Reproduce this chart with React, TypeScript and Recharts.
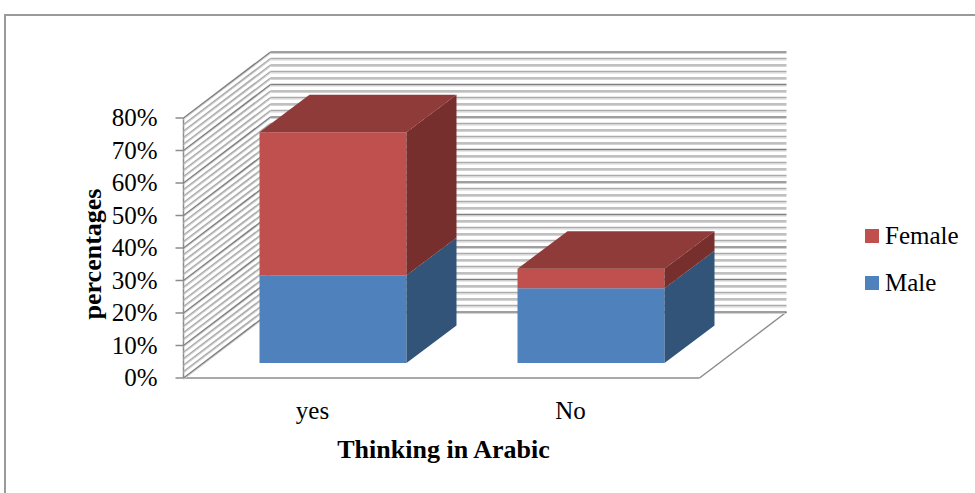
import React from 'react';
import { BarChart, Bar, XAxis, YAxis, Legend, ReferenceArea, ReferenceLine } from 'recharts';

// values (percent)
const categories = ['yes', 'No'];
const maleValues = [27, 23];
const femaleValues = [44, 6];
const yTicks = [0, 10, 20, 30, 40, 50, 60, 70, 80];
const gridSteps = Array.from({ length: 41 }, (_, i) => i * 2);

const data = categories.map((name, i) => ({ name, Male: maleValues[i], Female: femaleValues[i] }));

const SERIF = '"Times New Roman", "Liberation Serif", serif';

// 3D projection offsets, measured from the bar front plane
const FRONT_DX = -20; // floor front edge / axis
const FRONT_DY = 15;
const BACK_DX = 67; // back wall
const BACK_DY = -51;
const BAR_DX = 50; // bar depth
const BAR_DY = -37.5;

const COLORS = {
  Female: { front: '#C0504D', side: '#772F2E', top: '#8F3B39' },
  Male: { front: '#4F81BD', side: '#325479', top: '#3F6897' },
};

const Box3D = (props: any) => {
  const { x, y, width, height, colors, showTop } = props;
  if (!height || height <= 0) return null;
  const x2 = x + width;
  const y2 = y + height;
  const side = `${x2},${y} ${x2 + BAR_DX},${y + BAR_DY} ${x2 + BAR_DX},${y2 + BAR_DY} ${x2},${y2}`;
  const top = `${x},${y} ${x + BAR_DX},${y + BAR_DY} ${x2 + BAR_DX},${y + BAR_DY} ${x2},${y}`;
  return (
    <g>
      <rect x={x} y={y} width={width} height={height} fill={colors.front} />
      <polygon points={side} fill={colors.side} />
      {showTop && <polygon points={top} fill={colors.top} />}
    </g>
  );
};

// walls outline, floor and front axis line
const WallFrame = (props: any) => {
  const { x, y, width, height } = props;
  const fx = x + FRONT_DX;
  const fy = y + height + FRONT_DY;
  const fTop = y + FRONT_DY;
  return (
    <g>
      <line x1={fx} y1={fy} x2={fx + width} y2={fy} stroke="#8c8c8c" strokeWidth={1.5} />
      <line
        x1={fx + width}
        y1={fy}
        x2={x + width + BACK_DX}
        y2={y + height + BACK_DY}
        stroke="#8c8c8c"
        strokeWidth={1.5}
      />
      <line x1={fx} y1={fy} x2={fx} y2={fTop} stroke="#8c8c8c" strokeWidth={1.5} />
    </g>
  );
};

const GridShape = (props: any) => {
  const { x1, x2, y1, major } = props;
  const color = major ? '#7f7f7f' : '#ababab';
  const lx1 = x1 + FRONT_DX;
  const ly1 = y1 + FRONT_DY;
  const bx1 = x1 + BACK_DX;
  const bx2 = x2 + BACK_DX;
  const by = y1 + BACK_DY;
  return (
    <g>
      <line x1={lx1} y1={ly1 + 1.5} x2={bx1} y2={by + 1.5} stroke="#d2d2d2" strokeWidth={1} />
      <line x1={bx1} y1={by + 1.5} x2={bx2} y2={by + 1.5} stroke="#d2d2d2" strokeWidth={1} />
      <line x1={lx1} y1={ly1} x2={bx1} y2={by} stroke={color} strokeWidth={1.4} />
      <line x1={bx1} y1={by} x2={bx2} y2={by} stroke={color} strokeWidth={1.4} />
    </g>
  );
};

const YTick = (props: any) => {
  const { x, y, payload } = props;
  const fx = x + FRONT_DX;
  const fy = y + FRONT_DY;
  return (
    <g>
      <line x1={fx - 8} y1={fy} x2={fx} y2={fy} stroke="#8c8c8c" strokeWidth={1.5} />
      <text
        x={fx - 26}
        y={fy + 8}
        textAnchor="end"
        fontFamily={SERIF}
        fontSize={25}
        fill="#000"
      >
        {payload.value}%
      </text>
    </g>
  );
};

const XTick = (props: any) => {
  const { x, y, payload } = props;
  return (
    <text x={x + FRONT_DX} y={y + 56} textAnchor="middle" fontFamily={SERIF} fontSize={25} fill="#000">
      {payload.value}
    </text>
  );
};

const YLabel = (props: any) => {
  const { x, width, y, height } = props.viewBox;
  const lx = x + width - 103;
  const ly = y + height / 2 + 21;
  return (
    <text
      x={lx}
      y={ly}
      transform={`rotate(-90, ${lx}, ${ly})`}
      textAnchor="middle"
      fontFamily={SERIF}
      fontWeight="bold"
      fontSize={26}
      fill="#000"
    >
      percentages
    </text>
  );
};

const XLabel = (props: any) => {
  const { x, width, y } = props.viewBox;
  return (
    <text
      x={x + width / 2 + FRONT_DX + 2}
      y={y + 95}
      textAnchor="middle"
      fontFamily={SERIF}
      fontWeight="bold"
      fontSize={26}
      fill="#000"
    >
      Thinking in Arabic
    </text>
  );
};

const legendItems = [
  { name: 'Female', color: COLORS.Female.front },
  { name: 'Male', color: COLORS.Male.front },
];

const LegendContent = () => (
  <div style={{ fontFamily: SERIF, fontSize: 25, color: '#000' }}>
    {legendItems.map((item) => (
      <div key={item.name} style={{ display: 'flex', alignItems: 'center', height: 47 }}>
        <span style={{ width: 14, height: 14, background: item.color, marginRight: 6, display: 'inline-block' }} />
        <span>{item.name}</span>
      </div>
    ))}
  </div>
);

const App: React.FC = () => {
  return (
    <div style={{ position: 'absolute', left: 0, top: 0, width: 975, height: 493, background: '#fff', overflow: 'hidden' }}>
      <div
        style={{
          position: 'absolute',
          left: 4,
          top: 14,
          width: 1000,
          height: 500,
          borderTop: '2px solid #9a9a9a',
          borderLeft: '2px solid #9a9a9a',
        }}
      />
      <div style={{ position: 'absolute', left: 0, top: 0 }}>
        <BarChart
          width={975}
          height={493}
          data={data}
          margin={{ top: 103, right: 255.5, bottom: 100, left: 143.5 }}
        >
          <ReferenceArea y1={0} y2={80} zIndex={-200} shape={(p: any) => <WallFrame {...p} />} />
          {gridSteps.map((v) => (
            <ReferenceLine
              key={v}
              y={v}
              zIndex={-150}
              shape={(p: any) => <GridShape {...p} major={v % 10 === 0} />}
            />
          ))}
          <XAxis
            dataKey="name"
            axisLine={false}
            tickLine={false}
            tickSize={0}
            tickMargin={0}
            height={30}
            interval={0}
            tick={(p: any) => <XTick {...p} />}
            label={(p: any) => <XLabel {...p} />}
          />
          <YAxis
            type="number"
            domain={[0, 80]}
            ticks={yTicks}
            axisLine={false}
            tickLine={false}
            tickSize={0}
            tickMargin={0}
            width={60}
            tick={(p: any) => <YTick {...p} />}
            label={(p: any) => <YLabel {...p} />}
          />
          <Legend
            layout="vertical"
            align="center"
            verticalAlign="middle"
            wrapperStyle={{ left: 865, top: 212.5, width: 110 }}
            content={() => <LegendContent />}
          />
          <Bar
            dataKey="Male"
            stackId="a"
            barSize={147}
            fill={COLORS.Male.front}
            isAnimationActive={false}
            shape={(p: any) => <Box3D {...p} colors={COLORS.Male} showTop={false} />}
          />
          <Bar
            dataKey="Female"
            stackId="a"
            barSize={147}
            fill={COLORS.Female.front}
            isAnimationActive={false}
            shape={(p: any) => <Box3D {...p} colors={COLORS.Female} showTop />}
          />
        </BarChart>
      </div>
    </div>
  );
};

export default App;
